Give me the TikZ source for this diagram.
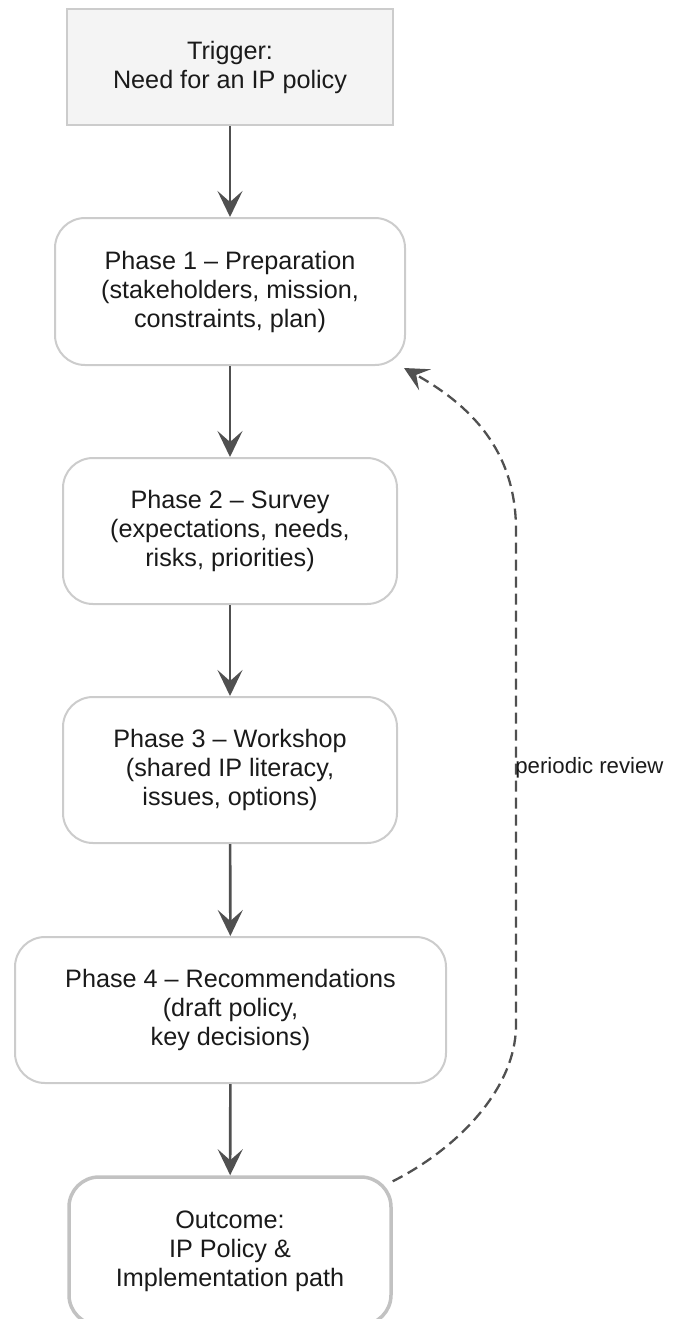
\documentclass[tikz,border=0pt]{standalone}
\usepackage{fontspec}
\setmainfont{Liberation Sans}
\usetikzlibrary{arrows.meta}

\definecolor{boxline}{HTML}{CCCCCC}
\definecolor{boxfill}{HTML}{F4F4F4}
\definecolor{flowline}{HTML}{505050}
\definecolor{inktext}{HTML}{1A1A1A}

\tikzset{
	stage/.style={draw=boxline,line width=1pt,rounded corners=15pt,fill=white,
		align=center,text=inktext,font=\fontsize{12.6}{14.5}\selectfont,
		minimum width=167pt,minimum height=73pt,inner sep=0pt},
	startbox/.style={stage,rounded corners=0pt,fill=boxfill,minimum width=163pt,minimum height=58pt},
	endbox/.style={stage,line width=1.75pt,draw=boxline!95!black,minimum width=161pt,minimum height=74pt},
	flow/.style={-{Stealth[length=13pt,width=12.5pt,inset=5.5pt]},draw=flowline,line width=1.3pt},
	review/.style={-{Stealth[length=12pt,width=12pt,inset=5pt]},draw=flowline,line width=1.15pt,
		dash pattern=on 5.5pt off 3pt},
}

\begin{document}
\begin{tikzpicture}[x=0.5pt,y=-0.5pt]
	\useasboundingbox (0,0) rectangle (682,1319);
	% boxes
	\node[startbox] (trigger) at (230,67) {Trigger:\\Need for an IP policy};
	\node[stage,minimum width=175pt,minimum height=73.5pt] (prep) at (230,291.5) {Phase 1 -- Preparation\\(stakeholders, mission,\\constraints, plan)};
	\node[stage] (survey) at (230,531) {Phase 2 -- Survey\\(expectations, needs,\\risks, priorities)};
	\node[stage] (workshop) at (230,770) {Phase 3 -- Workshop\\(shared IP literacy,\\issues, options)};
	\node[stage,minimum width=215.5pt] (recs) at (230.5,1010) {Phase 4 -- Recommendations\\(draft policy,\\key decisions)};
	\node[endbox] (outcome) at (230,1251) {Outcome:\\IP Policy \&\\Implementation path};
	% main flow
	\draw[flow] (trigger) -- (prep);
	\draw[flow] (prep) -- (survey);
	\draw[flow] (survey) -- (workshop);
	\draw[flow] (workshop) -- (recs);
	\draw[flow] (recs) -- (outcome);
	% feedback loop
	\draw[review] ([yshift=-3pt]outcome.north east) .. controls (455,1150) and (516,1090) .. (516,1025)
		-- (516,530) .. controls (516,450) and (470,405) .. ([shift={(-1pt,-1pt)}]prep.south east);
	\node[anchor=west,inner sep=0pt,text=inktext,font=\fontsize{11.1}{13}\selectfont] (revlabel) at (515,768) {periodic review};
\end{tikzpicture}
\end{document}
